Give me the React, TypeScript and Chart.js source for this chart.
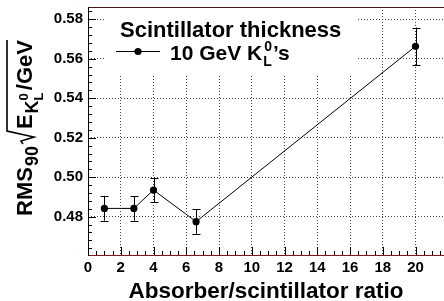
import { useEffect, useRef } from "react";
import { Chart, registerables } from "chart.js";

Chart.register(...registerables);

// ---- data ----
const ratios = [1, 2.8, 4, 6.6, 20];
const rms90 = [0.4842, 0.4842, 0.4935, 0.4775, 0.5663];
const rmsErr = [0.0062, 0.0062, 0.0063, 0.0062, 0.0095];

const xTickValues = [0, 2, 4, 6, 8, 10, 12, 14, 16, 18, 20];
const yTickValues = [0.48, 0.5, 0.52, 0.54, 0.56, 0.58];
const xRange = [0, 21.74];
const yRange = [0.4606, 0.5862];
const xMinorStep = 0.5;
const yMinorStep = 0.004;

const xTitle = "Absorber/scintillator ratio";
const legendHeader = "Scintillator thickness";
const legendEntry = "10 GeV K";

const FAM = '"Liberation Sans", Arial, Helvetica, sans-serif';

const overlay = {
  id: "overlay",
  afterDraw(chart: any) {
    const { ctx, chartArea, scales } = chart;
    const { left, right, top, bottom } = chartArea;
    const xs = scales.x;
    const ys = scales.y;
    ctx.save();

    // error bars
    ctx.strokeStyle = "#000";
    ctx.lineWidth = 1;
    ratios.forEach((r, i) => {
      const px = Math.round(xs.getPixelForValue(r)) + 0.5;
      const pt = ys.getPixelForValue(rms90[i] + rmsErr[i]);
      const pb = ys.getPixelForValue(rms90[i] - rmsErr[i]);
      ctx.beginPath();
      ctx.moveTo(px, pt);
      ctx.lineTo(px, pb);
      ctx.moveTo(px - 4, Math.round(pt) + 0.5);
      ctx.lineTo(px + 4, Math.round(pt) + 0.5);
      ctx.moveTo(px - 4, Math.round(pb) + 0.5);
      ctx.lineTo(px + 4, Math.round(pb) + 0.5);
      ctx.stroke();
    });

    // inside ticks
    ctx.strokeStyle = "#000";
    ctx.beginPath();
    for (let v = xRange[0]; v <= xRange[1] + 1e-9; v += xMinorStep) {
      const major = Math.abs(v / 2 - Math.round(v / 2)) < 1e-6;
      const px = Math.round(xs.getPixelForValue(v)) + 0.5;
      ctx.moveTo(px, bottom);
      ctx.lineTo(px, bottom - (major ? 8 : 4));
    }
    for (let v = 0.464; v <= yRange[1] + 1e-9; v += yMinorStep) {
      const major = Math.abs(v / 0.02 - Math.round(v / 0.02)) < 1e-6;
      const py = Math.round(ys.getPixelForValue(v)) + 0.5;
      ctx.moveTo(left, py);
      ctx.lineTo(left + (major ? 8 : 4), py);
    }
    ctx.stroke();

    // frame
    ctx.lineWidth = 1;
    ctx.strokeStyle = "#4a1818";
    ctx.beginPath();
    ctx.moveTo(left, Math.round(top) + 0.5);
    ctx.lineTo(right, Math.round(top) + 0.5);
    ctx.stroke();
    ctx.strokeStyle = "#7a1c1c";
    ctx.beginPath();
    ctx.moveTo(left, Math.round(bottom) + 0.5);
    ctx.lineTo(right, Math.round(bottom) + 0.5);
    ctx.stroke();
    ctx.strokeStyle = "#000";
    ctx.beginPath();
    ctx.moveTo(Math.round(left) + 0.5, top);
    ctx.lineTo(Math.round(left) + 0.5, bottom + 1);
    ctx.stroke();

    // legend
    ctx.fillStyle = "#fff";
    ctx.fillRect(105, Math.round(top) + 1, 252, 66);
    ctx.fillStyle = "#000";
    ctx.textAlign = "left";
    ctx.textBaseline = "alphabetic";
    ctx.font = `bold 22px ${FAM}`;
    ctx.fillText(legendHeader, 120, 37);
    ctx.beginPath();
    ctx.moveTo(116, 51.5);
    ctx.lineTo(160, 51.5);
    ctx.stroke();
    ctx.beginPath();
    ctx.arc(138, 51.5, 3.6, 0, Math.PI * 2);
    ctx.fill();
    let cx = 170;
    ctx.font = `bold 21px ${FAM}`;
    ctx.fillText(legendEntry, cx, 60);
    cx += ctx.measureText(legendEntry).width + 1;
    ctx.font = `bold 14px ${FAM}`;
    ctx.fillText("L", cx, 66);
    const wL = ctx.measureText("L").width;
    ctx.fillText("0", cx + 1, 51);
    const w0 = ctx.measureText("0").width;
    cx += Math.max(wL, w0 + 1) + 1;
    ctx.font = `bold 21px ${FAM}`;
    ctx.fillText("\u2019s", cx, 60);

    // x title
    ctx.textAlign = "center";
    ctx.font = `bold 22.5px ${FAM}`;
    ctx.fillText(xTitle, (left + right) / 2, 298);

    // y title (rotated)
    ctx.save();
    ctx.translate(32, 216);
    ctx.rotate(-Math.PI / 2);
    ctx.textAlign = "left";
    let tx = 0;
    ctx.font = `bold 22px ${FAM}`;
    ctx.fillText("RMS", tx, 0);
    tx += ctx.measureText("RMS").width + 1;
    ctx.font = `bold 18px ${FAM}`;
    ctx.fillText("90", tx, 6);
    tx += ctx.measureText("90").width + 2;
    const rStart = tx;
    tx += 15;
    ctx.font = `bold 22px ${FAM}`;
    ctx.fillText("E", tx, 0);
    tx += ctx.measureText("E").width + 1;
    ctx.font = `bold 18px ${FAM}`;
    ctx.fillText("K", tx, 6);
    tx += ctx.measureText("K").width;
    ctx.font = `bold 13px ${FAM}`;
    ctx.fillText("L", tx, 11);
    ctx.fillText("0", tx, -4);
    tx += ctx.measureText("0").width + 3;
    ctx.font = `bold 22px ${FAM}`;
    ctx.fillText("/GeV", tx, 0);
    tx += ctx.measureText("/GeV").width;
    ctx.lineWidth = 1.6;
    ctx.beginPath();
    ctx.moveTo(rStart, -9);
    ctx.lineTo(rStart + 3, -11);
    ctx.lineTo(rStart + 7, 2);
    ctx.lineTo(rStart + 13, -25);
    ctx.lineTo(tx, -25);
    ctx.stroke();
    ctx.restore();

    ctx.restore();
  },
};

export default function App() {
  const ref = useRef<HTMLCanvasElement | null>(null);
  useEffect(() => {
    if (!ref.current) return;
    const chart = new Chart(ref.current, {
      type: "scatter",
      data: {
        datasets: [
          {
            label: legendEntry,
            data: ratios.map((r, i) => ({ x: r, y: rms90[i] })),
            showLine: true,
            borderColor: "#000",
            borderWidth: 1,
            pointRadius: 3.6,
            pointBackgroundColor: "#000",
            pointBorderWidth: 0,
            clip: false,
          },
        ],
      },
      options: {
        responsive: false,
        animation: false,
        devicePixelRatio: 1,
        layout: { autoPadding: false, padding: { top: 7, right: 0, left: 0, bottom: 0 } },
        plugins: { legend: { display: false }, tooltip: { enabled: false }, title: { display: false } },
        scales: {
          x: {
            type: "linear",
            min: xRange[0],
            max: xRange[1],
            afterBuildTicks: (s: any) => {
              s.ticks = xTickValues.map((v) => ({ value: v }));
            },
            afterFit: (s: any) => {
              s.height = 46;
              s.paddingLeft = 0;
              s.paddingRight = 0;
            },
            ticks: {
              color: "#000",
              font: { family: FAM, size: 15, weight: "bold" },
              padding: 4,
              maxRotation: 0,
              autoSkip: false,
            },
            grid: { color: "#444", lineWidth: 1, drawTicks: false },
            border: { display: false, dash: [1, 2] },
          },
          y: {
            type: "linear",
            min: yRange[0],
            max: yRange[1],
            afterBuildTicks: (s: any) => {
              s.ticks = yTickValues.map((v) => ({ value: v }));
            },
            afterFit: (s: any) => {
              s.width = 88;
              s.paddingTop = 0;
              s.paddingBottom = 0;
            },
            ticks: {
              color: "#000",
              font: { family: FAM, size: 15, weight: "bold" },
              padding: 5,
              autoSkip: false,
              callback: (v: any) => Number(v).toFixed(2),
            },
            grid: { color: "#444", lineWidth: 1, drawTicks: false },
            border: { display: false, dash: [1, 2] },
          },
        },
      },
      plugins: [overlay],
    });
    return () => chart.destroy();
  }, []);
  return (
    <div style={{ position: "absolute", left: 0, top: 0, width: 444, height: 301, background: "#fff" }}>
      <canvas ref={ref} width={444} height={301} />
    </div>
  );
}
